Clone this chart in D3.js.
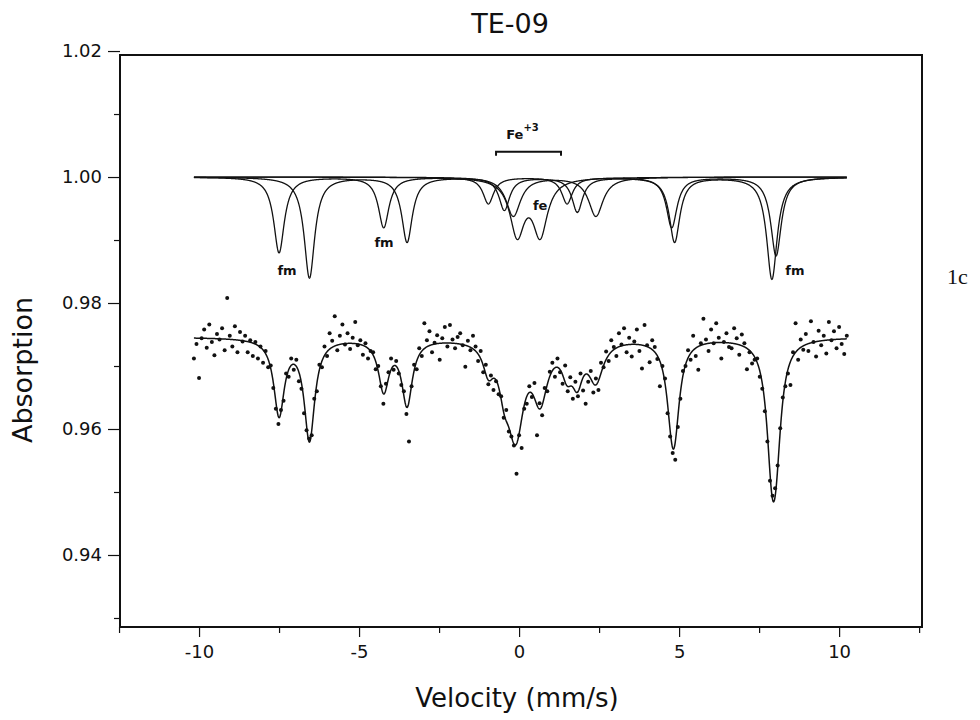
<!DOCTYPE html>
<html>
<head>
<meta charset="utf-8">
<script src="https://cdn.jsdelivr.net/npm/d3@7"></script>
<style>
  body { margin: 0; background: #fff; }
  svg { display: block; }
  text { fill: #111; font-family: "DejaVu Sans", "Liberation Sans", Arial, sans-serif; }
  text.tag { font-family: "Liberation Serif", "DejaVu Serif", serif; }
</style>
</head>
<body>
<svg id="chart" width="980" height="720"></svg>
<script>
// Mössbauer spectrum of sample TE-09: measured absorption and fitted subspectra

const chartTitle = "TE-09";
const xTitle = "Velocity (mm/s)";
const yTitle = "Absorption";
const panelTag = "1c";

const xMajorTicks = [-10, -5, 0, 5, 10];
const xMajorLabels = ["-10", "-5", "0", "5", "10"];
const xMinorTicks = [-12.5, -7.5, -2.5, 2.5, 7.5, 12.5];
const yMajorTicks = [0.94, 0.96, 0.98, 1.00, 1.02];
const yMajorLabels = ["0.94", "0.96", "0.98", "1.00", "1.02"];
const yMinorTicks = [0.93, 0.95, 0.97, 0.99, 1.01];

// velocity calibration of the channels (mm/s)
const channelStart = -10.16;
const channelStep = 0.08;

// measured absorption, one value per channel
const absorption = [
  0.9712, 0.9735, 0.9681, 0.9744, 0.9758, 0.9729, 0.9766, 0.9738, 0.9717, 0.9751,
  0.9742, 0.9760, 0.9725, 0.9808, 0.9748, 0.9731, 0.9763, 0.9722, 0.9754, 0.9739,
  0.9748, 0.9722, 0.9741, 0.9716, 0.9738, 0.9712, 0.9731, 0.9705, 0.9724, 0.9698,
  0.9701, 0.9665, 0.9632, 0.9608, 0.9630, 0.9645, 0.9688, 0.9683, 0.9712, 0.9694,
  0.9710, 0.9676, 0.9664, 0.9625, 0.9598, 0.9585, 0.9590, 0.9648, 0.9660, 0.9702,
  0.9698, 0.9731, 0.9716, 0.9752, 0.9740, 0.9779, 0.9725, 0.9748, 0.9766, 0.9734,
  0.9752, 0.9727, 0.9745, 0.9770, 0.9733, 0.9741, 0.9718, 0.9736, 0.9712, 0.9724,
  0.9722, 0.9695, 0.9700, 0.9668, 0.9640, 0.9672, 0.9690, 0.9712, 0.9694, 0.9708,
  0.9688, 0.9670, 0.9660, 0.9624, 0.9580, 0.9668, 0.9702, 0.9695, 0.9728, 0.9716,
  0.9768, 0.9741, 0.9755, 0.9722, 0.9737, 0.9749, 0.9710, 0.9744, 0.9762, 0.9731,
  0.9765, 0.9742, 0.9728, 0.9746, 0.9752, 0.9733, 0.9699, 0.9740, 0.9725, 0.9748,
  0.9731, 0.9708, 0.9724, 0.9690, 0.9702, 0.9671, 0.9685, 0.9662, 0.9676, 0.9655,
  0.9652, 0.9618, 0.9630, 0.9596, 0.9588, 0.9574, 0.9529, 0.9590, 0.9570, 0.9632,
  0.9640, 0.9668, 0.9651, 0.9673, 0.9590, 0.9641, 0.9622, 0.9665, 0.9660, 0.9691,
  0.9705, 0.9683, 0.9712, 0.9690, 0.9672, 0.9701, 0.9660, 0.9682, 0.9648, 0.9675,
  0.9652, 0.9688, 0.9661, 0.9640, 0.9675, 0.9692, 0.9658, 0.9680, 0.9662, 0.9705,
  0.9698, 0.9723, 0.9708, 0.9741, 0.9730, 0.9716, 0.9752, 0.9734, 0.9760, 0.9722,
  0.9745, 0.9715, 0.9739, 0.9758, 0.9724, 0.9696, 0.9765, 0.9733, 0.9706, 0.9741,
  0.9730, 0.9711, 0.9668, 0.9700, 0.9680, 0.9625, 0.9588, 0.9562, 0.9551, 0.9603,
  0.9648, 0.9692, 0.9700, 0.9725, 0.9710, 0.9748, 0.9716, 0.9694, 0.9736, 0.9775,
  0.9742, 0.9724, 0.9758, 0.9736, 0.9768, 0.9745, 0.9712, 0.9738, 0.9752, 0.9730,
  0.9728, 0.9760, 0.9744, 0.9718, 0.9750, 0.9736, 0.9695, 0.9722, 0.9704, 0.9710,
  0.9712, 0.9683, 0.9664, 0.9628, 0.9580, 0.9518, 0.9494, 0.9506, 0.9542, 0.9601,
  0.9650, 0.9668, 0.9688, 0.9670, 0.9722, 0.9768, 0.9710, 0.9742, 0.9726, 0.9751,
  0.9724, 0.9771, 0.9738, 0.9715, 0.9756, 0.9733, 0.9748, 0.9720, 0.9770, 0.9741,
  0.9755, 0.9728, 0.9762, 0.9735, 0.9719, 0.9748
];

// fitted subspectra: line positions (mm/s), line depths, line width (FWHM, mm/s)
const sextetAPositions = [-7.50, -4.23, -0.96, 1.50, 4.77, 8.03];
const sextetADepths    = [0.0120, 0.0080, 0.0042, 0.0042, 0.0080, 0.0125];
const sextetBPositions = [-6.55, -3.50, -0.46, 1.82, 4.86, 7.90];
const sextetBDepths    = [0.0160, 0.0103, 0.0052, 0.0055, 0.0103, 0.0162];
const fe3Positions     = [-0.06, 0.66];
const fe3Depths        = [0.0088, 0.0088];
const fe2Positions     = [-0.18, 2.40];
const fe2Depths        = [0.0062, 0.0062];
const subspectrumWidths = [0.40, 0.40, 0.55, 0.55];

const componentBaseline = 1.000;   // subspectra are plotted from 1.00
const spectrumBaseline = 0.9746;   // off-resonance level of the measured spectrum

// annotations on the subspectra (velocity, absorption of text baseline)
const annotationText = ["fm", "fm", "fe", "fm"];
const annotationVelocity = [-7.25, -4.22, 0.66, 8.62];
const annotationLevel = [0.98444, 0.98889, 0.99476, 0.98444];
const fe3BracketRange = [-0.72, 1.31];
const fe3BracketLevel = 1.0040;

// ---------------------------------------------------------------------------
const svg = d3.select("#chart");
const margin = { left: 120, right: 58, top: 55, bottom: 93 };
const W = 980, H = 720;

const x = d3.scaleLinear().domain([-12.47, 12.59]).range([margin.left, W - margin.right]);
const y = d3.scaleLinear().domain([0.92857, 1.01937]).range([H - margin.bottom, margin.top]);

const velocities = absorption.map((_, i) => channelStart + i * channelStep);

const subspectra = [
  { pos: sextetAPositions, depth: sextetADepths, width: subspectrumWidths[0] },
  { pos: sextetBPositions, depth: sextetBDepths, width: subspectrumWidths[1] },
  { pos: fe3Positions, depth: fe3Depths, width: subspectrumWidths[2] },
  { pos: fe2Positions, depth: fe2Depths, width: subspectrumWidths[3] }
];

// Lorentzian line absorption of one subspectrum at velocity v
function lineAbsorption(sub, v) {
  let s = 0;
  for (let k = 0; k < sub.pos.length; k++) {
    const t = 2 * (v - sub.pos[k]) / sub.width;
    s += sub.depth[k] / (1 + t * t);
  }
  return s;
}

const vMin = velocities[0], vMax = velocities[velocities.length - 1];
const grid = d3.range(vMin, vMax + 1e-9, 0.01);

const line = d3.line().x(d => x(d[0])).y(d => y(d[1]));

const plot = svg.append("g");

// subspectra drawn from the 1.00 level
subspectra.forEach(sub => {
  plot.append("path")
    .attr("d", line(grid.map(v => [v, componentBaseline - lineAbsorption(sub, v)])))
    .attr("fill", "none").attr("stroke", "#111").attr("stroke-width", 1.3);
});

// total fit through the measured points
plot.append("path")
  .attr("d", line(grid.map(v => [v, spectrumBaseline - d3.sum(subspectra, s => lineAbsorption(s, v))])))
  .attr("fill", "none").attr("stroke", "#111").attr("stroke-width", 1.5);

// measured points
plot.selectAll("circle.pt").data(absorption).join("circle")
  .attr("class", "pt")
  .attr("cx", (d, i) => x(velocities[i]))
  .attr("cy", d => y(d))
  .attr("r", 2)
  .attr("fill", "#111");

// subspectrum labels
annotationText.forEach((t, i) => {
  plot.append("text")
    .attr("x", x(annotationVelocity[i])).attr("y", y(annotationLevel[i]))
    .attr("text-anchor", "middle")
    .attr("font-size", 13).attr("font-weight", "bold")
    .text(t);
});

// Fe3+ bracket
const bx0 = x(fe3BracketRange[0]), bx1 = x(fe3BracketRange[1]), by = y(fe3BracketLevel);
plot.append("path")
  .attr("d", `M${bx0},${by + 4}V${by}H${bx1}V${by + 4}`)
  .attr("fill", "none").attr("stroke", "#111").attr("stroke-width", 2);
const feLabel = plot.append("text")
  .attr("x", (bx0 + bx1) / 2 - 6).attr("y", by - 13)
  .attr("text-anchor", "middle")
  .attr("font-size", 13).attr("font-weight", "bold");
feLabel.append("tspan").text("Fe");
feLabel.append("tspan").attr("font-size", 10).attr("dy", -8).text("+3");

// axes
const gx = svg.append("g").attr("transform", `translate(0,${H - margin.bottom})`);
gx.call(d3.axisBottom(x).tickValues(xMajorTicks).tickSize(10).tickPadding(8)
  .tickFormat((d, i) => xMajorLabels[i]));
gx.call(g => g.append("g").call(d3.axisBottom(x).tickValues(xMinorTicks).tickSize(6).tickFormat("")));
gx.selectAll("text").attr("font-size", 18).attr("fill", "#111");

const gy = svg.append("g").attr("transform", `translate(${margin.left},0)`);
gy.call(d3.axisLeft(y).tickValues(yMajorTicks).tickSize(12).tickPadding(6)
  .tickFormat((d, i) => yMajorLabels[i]));
gy.call(g => g.append("g").call(d3.axisLeft(y).tickValues(yMinorTicks).tickSize(6).tickFormat("")));
gy.selectAll("text").attr("font-size", 18).attr("fill", "#111");

svg.selectAll(".domain").remove();
svg.selectAll(".tick line").attr("stroke", "#111").attr("stroke-width", 1.2);

// frame
svg.append("rect")
  .attr("x", margin.left).attr("y", margin.top)
  .attr("width", W - margin.left - margin.right)
  .attr("height", H - margin.top - margin.bottom)
  .attr("fill", "none").attr("stroke", "#111").attr("stroke-width", 2);

// titles
svg.append("text").attr("x", 510).attr("y", 33).attr("text-anchor", "middle")
  .attr("font-size", 27).text(chartTitle);
svg.append("text").attr("x", 517).attr("y", 707)
  .attr("text-anchor", "middle").attr("font-size", 26).text(xTitle);
svg.append("text").attr("transform", "translate(32,370) rotate(-90)")
  .attr("text-anchor", "middle").attr("font-size", 27).text(yTitle);
svg.append("text").attr("class", "tag").attr("x", 947).attr("y", 284)
  .attr("font-size", 22).text(panelTag);
</script>
</body>
</html>
